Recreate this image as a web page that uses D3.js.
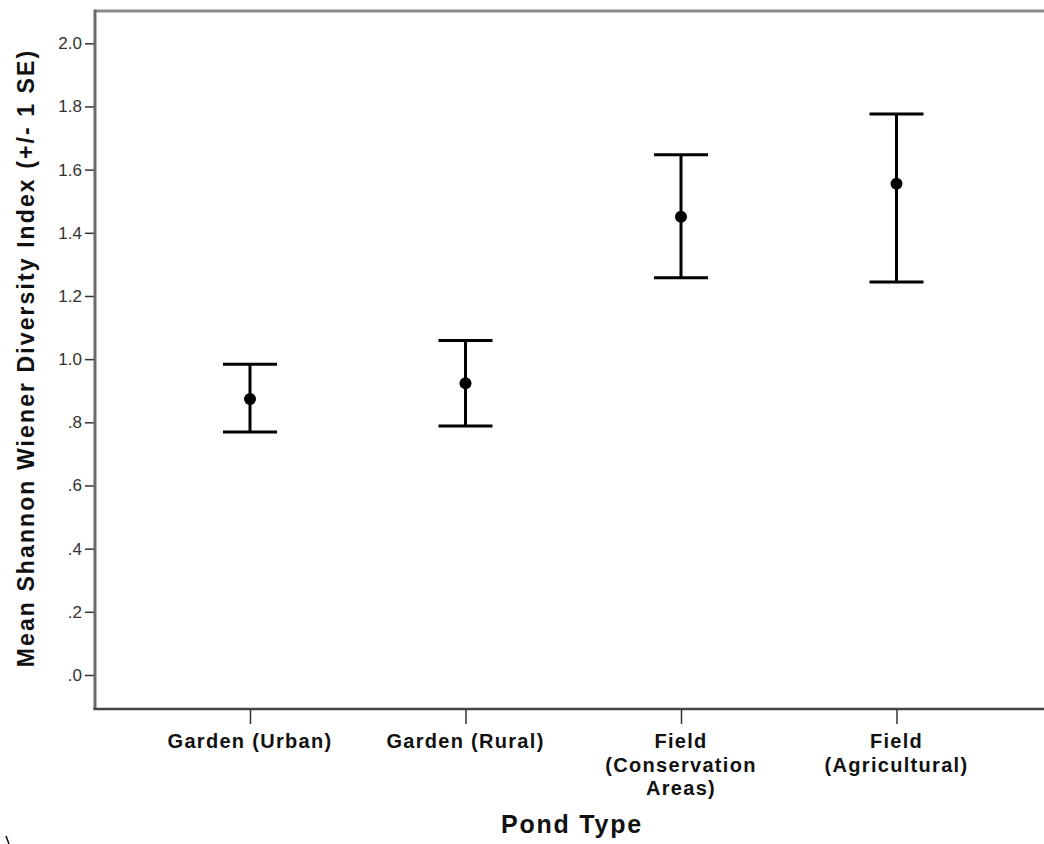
<!DOCTYPE html>
<html>
<head>
<meta charset="utf-8">
<script src="https://cdn.jsdelivr.net/npm/d3@7"></script>
<style>
  body { margin: 0; background: #fff; }
  svg { display: block; font-family: Arial, "Liberation Sans", sans-serif; }
</style>
</head>
<body>
<script>
// data
let categories = ['Garden (Urban)', 'Garden (Rural)', 'Field (Conservation Areas)', 'Field (Agricultural)']
let labelLines = [['Garden (Urban)'], ['Garden (Rural)'], ['Field', '(Conservation', 'Areas)'], ['Field', '(Agricultural)']]
let means = [0.874, 0.924, 1.451, 1.555]
let upper = [0.984, 1.059, 1.647, 1.776]
let lower = [0.769, 0.788, 1.258, 1.244]
let yTicks = [0, 0.2, 0.4, 0.6, 0.8, 1.0, 1.2, 1.4, 1.6, 1.8, 2.0]

let width = 1044
let height = 844

let svg = d3.select('body')
  .append('svg')
  .attr('width', width)
  .attr('height', height)

let plotLeft = 95, plotTop = 11, plotBottom = 709

let x = d3.scalePoint()
  .domain(categories)
  .range([250, 896.5])

let y = d3.scaleLinear()
  .domain([0, 2])
  .range([675, 43.3])

let fmt = d => {
  let s = d3.format('.1f')(d)
  return d < 1 ? s.replace(/^0/, '') : s
}

// frame lines
svg.append('line')
  .attr('x1', plotLeft).attr('x2', width)
  .attr('y1', plotTop).attr('y2', plotTop)
  .attr('stroke', '#8a8a8a').attr('stroke-width', 3)

// y axis
let yAxis = svg.append('g')
  .attr('transform', `translate(${plotLeft},0)`)
  .call(d3.axisLeft(y).tickValues(yTicks).tickFormat(fmt).tickSize(10).tickPadding(3))
yAxis.select('.domain').remove()
yAxis.selectAll('.tick line').attr('stroke', '#333').attr('stroke-width', 1.5)
yAxis.selectAll('.tick text')
  .attr('fill', '#333')
  .style('font-size', '17px')
  .style('font-family', 'Arial, "Liberation Sans", sans-serif')

svg.append('line')
  .attr('x1', plotLeft).attr('x2', plotLeft)
  .attr('y1', plotTop - 1.5).attr('y2', plotBottom + 1)
  .attr('stroke', '#6a6a6a').attr('stroke-width', 3)

// x axis
let xAxis = svg.append('g')
  .attr('transform', `translate(0,${plotBottom})`)
  .call(d3.axisBottom(x).tickSize(15).tickFormat(''))
xAxis.select('.domain').remove()
xAxis.selectAll('.tick line').attr('stroke', '#333').attr('stroke-width', 1.5)

svg.append('line')
  .attr('x1', plotLeft - 1.5).attr('x2', width)
  .attr('y1', plotBottom).attr('y2', plotBottom)
  .attr('stroke', '#444').attr('stroke-width', 2.5)

// category labels
categories.forEach((c, i) => {
  let t = svg.append('text')
    .attr('x', x(c))
    .attr('y', 748)
    .attr('text-anchor', 'middle')
    .attr('fill', '#111')
    .style('font-size', '20px')
    .style('font-weight', 'bold')
    .style('letter-spacing', '1.3px')
  labelLines[i].forEach((l, j) => {
    t.append('tspan')
      .attr('x', x(c))
      .attr('dy', j === 0 ? 0 : 23.5)
      .text(l)
  })
})

// error bars
let capW = 27
let bars = svg.append('g')
categories.forEach((c, i) => {
  bars.append('line')
    .attr('x1', x(c)).attr('x2', x(c))
    .attr('y1', y(upper[i])).attr('y2', y(lower[i]))
    .attr('stroke', '#000').attr('stroke-width', 3)
  bars.append('line')
    .attr('x1', x(c) - capW).attr('x2', x(c) + capW)
    .attr('y1', y(upper[i])).attr('y2', y(upper[i]))
    .attr('stroke', '#000').attr('stroke-width', 3)
  bars.append('line')
    .attr('x1', x(c) - capW).attr('x2', x(c) + capW)
    .attr('y1', y(lower[i])).attr('y2', y(lower[i]))
    .attr('stroke', '#000').attr('stroke-width', 3)
  bars.append('circle')
    .attr('cx', x(c)).attr('cy', y(means[i]))
    .attr('r', 6)
    .attr('fill', '#000')
})

// axis titles
svg.append('text')
  .attr('transform', `translate(34,358) rotate(-90)`)
  .attr('text-anchor', 'middle')
  .attr('fill', '#111')
  .style('font-size', '23px')
  .style('font-weight', 'bold')
  .style('letter-spacing', '2.1px')
  .text('Mean Shannon Wiener Diversity Index (+/- 1 SE)')

svg.append('text')
  .attr('x', 572)
  .attr('y', 833)
  .attr('text-anchor', 'middle')
  .attr('fill', '#111')
  .style('font-size', '25px')
  .style('font-weight', 'bold')
  .style('letter-spacing', '1.8px')
  .text('Pond Type')

// stray mark in the lower left corner
svg.append('line')
  .attr('x1', 6).attr('y1', 836)
  .attr('x2', 9).attr('y2', 844)
  .attr('stroke', '#111').attr('stroke-width', 1.5)
</script>
</body>
</html>
